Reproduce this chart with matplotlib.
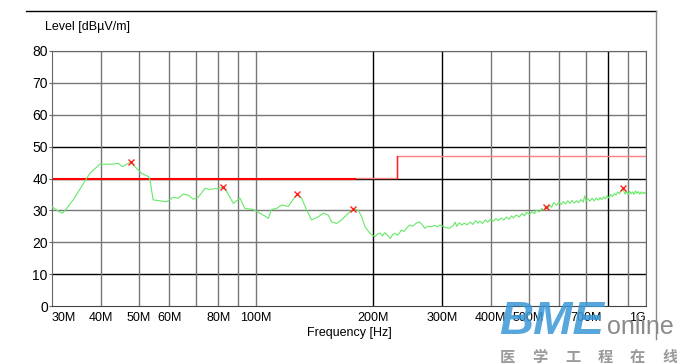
import matplotlib
matplotlib.use("Agg")
import matplotlib.pyplot as plt
from matplotlib.lines import Line2D
from matplotlib.ticker import FixedLocator, NullLocator

plt.rcParams['font.family'] = ['Liberation Sans', 'DejaVu Sans']

# measured trace, frequency in MHz, level in dBuV/m
freq_mhz = [30.0, 30.8, 31.9, 32.7, 34.0, 35.7, 37.5, 39.8, 43.1, 44.3, 45.5, 46.6, 47.7,
            49.9, 50.9, 53.0, 53.5, 54.5, 56.7, 59.0, 61.4, 63.2, 65.1, 67.0, 69.1, 71.1,
            74.0, 76.2, 80.0, 82.1, 84.1, 87.5, 91.0, 93.7, 98.4, 102.4, 105.5, 107.5,
            109.7, 113.0, 116.4, 121.0, 124.6, 127.6, 131.0, 134.9, 138.9, 144.5, 148.8,
            153.2, 156.3, 161.0, 165.8, 172.4, 177.6, 182.9, 186.6, 190.3, 196.0, 201.9,
            205, 208, 211, 214, 217, 221, 224, 227, 231, 236, 240, 244, 248, 252, 257,
            262, 266, 271, 276, 282, 287, 292, 296, 301, 306, 314, 320, 324, 327, 332,
            337, 342, 348, 354, 360, 366, 371, 375, 381, 387, 393, 399, 406, 412, 418,
            425, 432, 439, 446, 452, 457, 465, 473, 481, 488, 494, 502, 510, 518, 524,
            533, 540, 548, 553, 560, 567, 573, 580, 590, 598, 606, 614, 622, 630, 638,
            646, 655, 664, 672, 681, 690, 697, 702, 710, 718, 727, 737, 746, 755, 762,
            770, 778, 786, 795, 803, 812, 821, 830, 838, 846, 855, 864, 871, 878, 885,
            892, 900, 908, 916, 924, 932, 940, 948, 956, 964, 972, 980, 988, 995, 1000]
level = [31.2, 30.1, 29.1, 30.6, 33.3, 37.4, 41.6, 44.5, 44.5, 44.8, 43.7, 44.5, 45.1,
         42.7, 41.6, 40.6, 39.5, 33.3, 33.0, 32.7, 34.1, 33.8, 35.1, 34.8, 33.5, 34.1,
         36.9, 36.6, 36.9, 37.2, 35.9, 32.2, 33.8, 30.6, 30.3, 29.1, 28.2, 27.5,
         30.3, 30.6, 31.7, 31.2, 33.5, 35.1, 33.8, 30.1, 27.0, 28.0, 29.1,
         28.5, 26.4, 25.9, 27.0, 29.1, 30.3, 30.1, 28.0, 24.9, 22.8, 21.7,
         22.6, 22.9, 22.0, 23.0, 22.3, 21.2, 22.4, 22.8, 22.2, 23.8, 23.4, 24.6, 25.4, 25.0, 25.9,
         26.4, 25.7, 24.4, 25.0, 24.9, 25.3, 24.8, 25.4, 25.1, 24.6, 24.4, 25.2, 26.3, 25.0, 26.1,
         25.4, 26.0, 25.5, 26.3, 25.6, 26.8, 26.0, 26.6, 25.9, 27.0, 26.3, 27.2, 26.6, 27.4, 26.8,
         27.6, 27.0, 27.9, 27.2, 28.3, 27.6, 28.6, 27.9, 29.0, 28.3, 29.4, 28.7, 29.6, 29.0, 30.1,
         29.5, 30.6, 30.0, 31.2, 30.6, 31.6, 31.0, 32.4, 31.6, 32.6, 31.8, 32.8, 32.0, 33.0, 32.2,
         33.1, 32.3, 33.0, 32.4, 33.4, 32.6, 34.6, 33.0, 33.6, 32.9, 33.8, 33.0, 33.9, 33.2, 34.0,
         33.4, 34.2, 33.6, 34.6, 33.9, 35.0, 34.3, 35.3, 34.8, 35.8, 35.2, 36.4, 36.9, 36.0, 35.1,
         35.9, 35.0, 36.0, 35.2, 35.8, 35.0, 36.1, 35.3, 35.9, 35.1, 35.8, 35.2, 35.7, 35.3, 35.5]

# final peak markers
peak_mhz = [47.7, 82.1, 127.6, 177.6, 553, 871.5]
peak_level = [45.1, 37.2, 35.1, 30.3, 31.2, 36.9]

# limit line
limit_low_mhz = [30, 179]
limit_low = [40, 40]
limit_high_mhz = [179, 230, 230, 1000]
limit_high = [40.3, 40.3, 47, 47]

tick_mhz = [30, 40, 50, 60, 80, 100, 200, 300, 400, 500, 700, 1000]
tick_text = ['30M', '40M', '50M', '60M', '80M', '100M', '200M', '300M', '400M', '500M', '700M', '1G']
grid_gray_mhz = [40, 50, 60, 70, 80, 90, 100, 400, 500, 600, 700, 900, 1000]
grid_black_mhz = [200, 300, 800]
y_ticks = [0, 10, 20, 30, 40, 50, 60, 70, 80]

wm_chars = ['医', '学', '工', '程', '在', '线']

fig = plt.figure(figsize=(6.77, 3.64), dpi=100)
ax = fig.add_axes([52 / 677, 1 - 306 / 364, (646 - 52) / 677, (306 - 51) / 364])

ax.set_xscale('log')
ax.set_xlim(30e6, 1e9)
ax.set_ylim(0, 80)

# grid
for y in y_ticks[1:]:
    c = 'black' if y in (10, 40, 50) else '#777777'
    ax.axhline(y, color=c, lw=1, zorder=1)
for f in grid_gray_mhz:
    ax.axvline(f * 1e6, color='#777777', lw=1, zorder=1)
for f in grid_black_mhz:
    ax.axvline(f * 1e6, color='black', lw=1, zorder=1)

ax.plot([f * 1e6 for f in limit_high_mhz], limit_high, color='#ff8080', lw=1, zorder=2)
ax.plot([230e6, 230e6], [40.3, 47], color='#ff2020', lw=1, zorder=2)
ax.plot([f * 1e6 for f in limit_low_mhz], limit_low, color='#ff0000', lw=1.5, zorder=2)

ax.plot([f * 1e6 for f in freq_mhz], level, color='#66e866', lw=0.8, zorder=3)
ax.plot([f * 1e6 for f in peak_mhz], peak_level, 'x', color='#ff2020', ms=5, mew=1, zorder=4)

for s in ax.spines.values():
    s.set_color('#666666')
ax.spines['bottom'].set_color('#444444')

ax.xaxis.set_major_locator(FixedLocator([f * 1e6 for f in tick_mhz]))
ax.xaxis.set_minor_locator(NullLocator())
ax.set_xticklabels(tick_text)
ax.set_yticks(y_ticks)
ax.tick_params(axis='x', length=0, pad=4, labelsize=9)
ax.tick_params(axis='y', length=2, pad=1, labelsize=10, color='#666666')
xl = ax.get_xticklabels()
xl[0].set_horizontalalignment('left')
xl[-1].set_horizontalalignment('right')

fig.text(45 / 677, 1 - 27 / 364, 'Level [dBµV/m]', fontsize=9, va='center', ha='left')
fig.text(349 / 677, 1 - 333 / 364, 'Frequency [Hz]', fontsize=9, va='center', ha='center')

# outer frame
fig.add_artist(Line2D([26 / 677, 656 / 677], [1 - 11 / 364, 1 - 11 / 364], color='black', lw=1))
fig.add_artist(Line2D([656 / 677, 656 / 677], [1 - 11 / 364, 1 - 339 / 364], color='#888888', lw=1))

# watermark
fig.text(499 / 677, 1 - 322 / 364, 'BME', fontsize=34, fontweight='bold', style='italic',
         color='#3a98d8', va='center', ha='left', alpha=0.85)
fig.text(607 / 677, 1 - 327 / 364, 'online', fontsize=18, color='#8a8a8a', va='center', ha='left')
for i, ch in enumerate(wm_chars):
    fig.text((500 + 32.5 * i) / 677, 1 - 357 / 364, ch, fontsize=11, fontweight='bold',
             color='#9a9a9a', va='center', ha='left', family=['Noto Sans CJK SC', 'DejaVu Sans'])

fig.savefig('out.png', dpi=100)
